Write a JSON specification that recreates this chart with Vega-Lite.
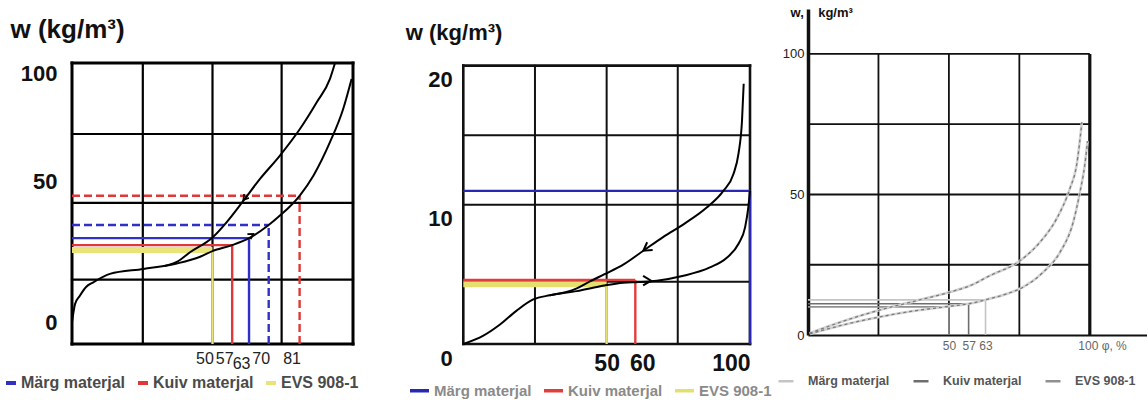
{
  "$schema": "https://vega.github.io/schema/vega-lite/v6.json",
  "background": "white",
  "padding": {"left": 3, "top": 6, "right": 0, "bottom": 0},
  "bounds": "flush",
  "spacing": 58,
  "config": {
    "view": {"stroke": null},
    "axis": {"labelFont": "Liberation Sans", "titleFont": "Liberation Sans", "grid": false, "ticks": false, "domain": false, "labelFlush": false, "labelOverlap": false, "labelBound": false, "labelColor": "#111", "titleColor": "#111"},
    "legend": {"labelFont": "Liberation Sans"}
  },
  "resolve": {
    "scale": {"x": "independent", "y": "independent", "color": "independent", "strokeDash": "independent"},
    "legend": {"color": "independent"}
  },
  "datasets": {
    "p1_grid": [
      {"kind": "frame", "x": 0, "x2": 0, "y": -8.87, "y2": 104.4},
      {"kind": "frame", "x": 100, "x2": 100, "y": -8.87, "y2": 104.4},
      {"kind": "frame", "x": 0, "x2": 100, "y": -8.87, "y2": -8.87},
      {"kind": "frame", "x": 0, "x2": 100, "y": 104.4, "y2": 104.4},
      {"kind": "grid", "x": 25.2, "x2": 25.2, "y": -8.87, "y2": 104.4},
      {"kind": "grid", "x": 50, "x2": 50, "y": -8.87, "y2": 104.4},
      {"kind": "grid", "x": 74.6, "x2": 74.6, "y": -8.87, "y2": 104.4},
      {"kind": "grid", "x": 0, "x2": 100, "y": 17.1, "y2": 17.1},
      {"kind": "grid", "x": 0, "x2": 100, "y": 48, "y2": 48},
      {"kind": "grid", "x": 0, "x2": 100, "y": 75.8, "y2": 75.8}
    ],
    "p1_lines": [
      {"series": "EVS 908-1", "style": "solid", "x": 0, "x2": 50, "y": 29, "y2": 29},
      {"series": "EVS 908-1", "style": "solid", "x": 50, "x2": 50, "y": -8.87, "y2": 29},
      {"series": "Kuiv materjal", "style": "solid", "x": 0, "x2": 57, "y": 31, "y2": 31},
      {"series": "Kuiv materjal", "style": "solid", "x": 57, "x2": 57, "y": -8.87, "y2": 31},
      {"series": "Märg materjal", "style": "solid", "x": 0, "x2": 63, "y": 33.8, "y2": 33.8},
      {"series": "Märg materjal", "style": "solid", "x": 63, "x2": 63, "y": -8.87, "y2": 33.8},
      {"series": "Märg materjal", "style": "dashed", "x": 0, "x2": 70, "y": 39.1, "y2": 39.1},
      {"series": "Märg materjal", "style": "dashed", "x": 70, "x2": 70, "y": -8.87, "y2": 39.1},
      {"series": "Kuiv materjal", "style": "dashed", "x": 0, "x2": 81, "y": 50.9, "y2": 50.9},
      {"series": "Kuiv materjal", "style": "dashed", "x": 81, "x2": 81, "y": -8.87, "y2": 50.9}
    ],
    "p1_curves": [
      {"branch": "absorption", "x": 0, "y": 0},
      {"branch": "absorption", "x": 1.1, "y": 7.3},
      {"branch": "absorption", "x": 2.8, "y": 10.6},
      {"branch": "absorption", "x": 5.0, "y": 14.1},
      {"branch": "absorption", "x": 7.6, "y": 16.0},
      {"branch": "absorption", "x": 13.5, "y": 19.4},
      {"branch": "absorption", "x": 25.4, "y": 21.4},
      {"branch": "absorption", "x": 37.3, "y": 23.6},
      {"branch": "absorption", "x": 45.6, "y": 26.3},
      {"branch": "absorption", "x": 50, "y": 28.6},
      {"branch": "absorption", "x": 57, "y": 31.0},
      {"branch": "absorption", "x": 63, "y": 33.8},
      {"branch": "absorption", "x": 70, "y": 39.1},
      {"branch": "absorption", "x": 74.0, "y": 42.9},
      {"branch": "absorption", "x": 81, "y": 50.9},
      {"branch": "absorption", "x": 85.9, "y": 59.0},
      {"branch": "absorption", "x": 91.8, "y": 72.5},
      {"branch": "absorption", "x": 96.5, "y": 85.9},
      {"branch": "absorption", "x": 99.5, "y": 98.0},
      {"branch": "desorption", "x": 33, "y": 22.6},
      {"branch": "desorption", "x": 37.3, "y": 24.2},
      {"branch": "desorption", "x": 42, "y": 28.1},
      {"branch": "desorption", "x": 50.1, "y": 34.2},
      {"branch": "desorption", "x": 55.0, "y": 40.2},
      {"branch": "desorption", "x": 61.0, "y": 48.9},
      {"branch": "desorption", "x": 66.9, "y": 57.7},
      {"branch": "desorption", "x": 74.0, "y": 67.1},
      {"branch": "desorption", "x": 81.1, "y": 77.8},
      {"branch": "desorption", "x": 87.1, "y": 88.6},
      {"branch": "desorption", "x": 91.8, "y": 98.0},
      {"branch": "desorption", "x": 93.6, "y": 104.4}
    ],
    "p1_arrows": [
      {"branch": "desorption", "x": 61.0, "y": 49.2},
      {"branch": "absorption", "x": 64.5, "y": 35.5}
    ],
    "p2_grid": [
      {"kind": "frame", "x": 0, "x2": 0, "y": 0, "y2": 20},
      {"kind": "frame", "x": 100, "x2": 100, "y": 0, "y2": 20},
      {"kind": "frame", "x": 0, "x2": 100, "y": 0, "y2": 0},
      {"kind": "frame", "x": 0, "x2": 100, "y": 20, "y2": 20},
      {"kind": "grid", "x": 25, "x2": 25, "y": 0, "y2": 20},
      {"kind": "grid", "x": 50, "x2": 50, "y": 0, "y2": 20},
      {"kind": "grid", "x": 74.8, "x2": 74.8, "y": 0, "y2": 20},
      {"kind": "grid", "x": 0, "x2": 100, "y": 4.48, "y2": 4.48},
      {"kind": "grid", "x": 0, "x2": 100, "y": 10, "y2": 10},
      {"kind": "grid", "x": 0, "x2": 100, "y": 15, "y2": 15}
    ],
    "p2_lines": [
      {"series": "EVS 908-1", "x": 0, "x2": 50, "y": 4.3, "y2": 4.3},
      {"series": "EVS 908-1", "x": 50, "x2": 50, "y": 0, "y2": 4.3},
      {"series": "Kuiv materjal", "x": 0, "x2": 60, "y": 4.6, "y2": 4.6},
      {"series": "Kuiv materjal", "x": 60, "x2": 60, "y": 0, "y2": 4.6},
      {"series": "Märg materjal", "x": 0, "x2": 100, "y": 11.0, "y2": 11.0},
      {"series": "Märg materjal", "x": 100, "x2": 100, "y": 0, "y2": 11.0}
    ],
    "p2_curves": [
      {"branch": "absorption", "x": 0, "y": 0},
      {"branch": "absorption", "x": 7.0, "y": 0.6},
      {"branch": "absorption", "x": 12.8, "y": 1.4},
      {"branch": "absorption", "x": 18.6, "y": 2.4},
      {"branch": "absorption", "x": 24.4, "y": 3.2},
      {"branch": "absorption", "x": 30.2, "y": 3.5},
      {"branch": "absorption", "x": 39.6, "y": 3.8},
      {"branch": "absorption", "x": 49.1, "y": 4.2},
      {"branch": "absorption", "x": 55.8, "y": 4.4},
      {"branch": "absorption", "x": 61.1, "y": 4.45},
      {"branch": "absorption", "x": 67.5, "y": 4.55},
      {"branch": "absorption", "x": 76.8, "y": 4.9},
      {"branch": "absorption", "x": 86.0, "y": 5.5},
      {"branch": "absorption", "x": 91.9, "y": 6.2},
      {"branch": "absorption", "x": 96.0, "y": 7.2},
      {"branch": "absorption", "x": 98.3, "y": 8.4},
      {"branch": "absorption", "x": 99.4, "y": 9.8},
      {"branch": "absorption", "x": 100, "y": 11.0},
      {"branch": "desorption", "x": 30.2, "y": 3.5},
      {"branch": "desorption", "x": 39.6, "y": 4.0},
      {"branch": "desorption", "x": 44.2, "y": 4.5},
      {"branch": "desorption", "x": 49.1, "y": 5.0},
      {"branch": "desorption", "x": 55.8, "y": 5.7},
      {"branch": "desorption", "x": 62.8, "y": 6.7},
      {"branch": "desorption", "x": 69.8, "y": 7.7},
      {"branch": "desorption", "x": 76.8, "y": 8.6},
      {"branch": "desorption", "x": 84.9, "y": 9.8},
      {"branch": "desorption", "x": 90.7, "y": 11.0},
      {"branch": "desorption", "x": 94.2, "y": 12.2},
      {"branch": "desorption", "x": 96.0, "y": 13.7},
      {"branch": "desorption", "x": 97.2, "y": 16.0},
      {"branch": "desorption", "x": 97.8, "y": 18.7}
    ],
    "p2_arrows": [
      {"branch": "desorption", "x": 62.8, "y": 6.7},
      {"branch": "absorption", "x": 65.5, "y": 4.55}
    ],
    "p3_grid": [
      {"kind": "grid", "x": 25, "x2": 25, "y": 0, "y2": 100},
      {"kind": "grid", "x": 50, "x2": 50, "y": 0, "y2": 100},
      {"kind": "grid", "x": 75, "x2": 75, "y": 0, "y2": 100},
      {"kind": "border", "x": 100, "x2": 100, "y": 0, "y2": 100},
      {"kind": "grid", "x": 0, "x2": 100, "y": 25, "y2": 25},
      {"kind": "grid", "x": 0, "x2": 100, "y": 50, "y2": 50},
      {"kind": "grid", "x": 0, "x2": 100, "y": 75, "y2": 75},
      {"kind": "grid", "x": 0, "x2": 100, "y": 100, "y2": 100}
    ],
    "p3_lines": [
      {"series": "EVS 908-1", "x": 0, "x2": 50, "y": 10.0, "y2": 10.0},
      {"series": "EVS 908-1", "x": 50, "x2": 50, "y": 0, "y2": 10.0},
      {"series": "Kuiv materjal", "x": 0, "x2": 57, "y": 11.1, "y2": 11.1},
      {"series": "Kuiv materjal", "x": 57, "x2": 57, "y": 0, "y2": 11.1},
      {"series": "Märg materjal", "x": 0, "x2": 63, "y": 12.5, "y2": 12.5},
      {"series": "Märg materjal", "x": 63, "x2": 63, "y": 0, "y2": 12.5}
    ],
    "p3_curves": [
      {"branch": "absorption", "x": 0.6, "y": 0.4},
      {"branch": "absorption", "x": 11.3, "y": 3.3},
      {"branch": "absorption", "x": 24.8, "y": 6.3},
      {"branch": "absorption", "x": 38.5, "y": 8.7},
      {"branch": "absorption", "x": 50.1, "y": 10.2},
      {"branch": "absorption", "x": 58.0, "y": 11.3},
      {"branch": "absorption", "x": 63.3, "y": 12.6},
      {"branch": "absorption", "x": 70.4, "y": 14.6},
      {"branch": "absorption", "x": 76.3, "y": 17.0},
      {"branch": "absorption", "x": 83.4, "y": 22.3},
      {"branch": "absorption", "x": 89.4, "y": 29.4},
      {"branch": "absorption", "x": 94.1, "y": 40.1},
      {"branch": "absorption", "x": 96.5, "y": 50.8},
      {"branch": "absorption", "x": 98.2, "y": 60.3},
      {"branch": "absorption", "x": 99.2, "y": 69.0},
      {"branch": "desorption", "x": 0.6, "y": 0.6},
      {"branch": "desorption", "x": 11.3, "y": 4.5},
      {"branch": "desorption", "x": 24.8, "y": 8.7},
      {"branch": "desorption", "x": 38.5, "y": 12.2},
      {"branch": "desorption", "x": 50.1, "y": 15.2},
      {"branch": "desorption", "x": 57.4, "y": 17.5},
      {"branch": "desorption", "x": 64.5, "y": 21.1},
      {"branch": "desorption", "x": 75.2, "y": 26.4},
      {"branch": "desorption", "x": 82.3, "y": 33.0},
      {"branch": "desorption", "x": 88.2, "y": 41.3},
      {"branch": "desorption", "x": 92.9, "y": 52.0},
      {"branch": "desorption", "x": 95.3, "y": 60.3},
      {"branch": "desorption", "x": 97.2, "y": 75.7}
    ]
  },
  "hconcat": [
    {
      "width": 281,
      "height": 335,
      "encoding": {
        "x": {
          "field": "x", "type": "quantitative",
          "scale": {"domain": [0, 100], "nice": false, "zero": false},
          "axis": {
            "title": null, "values": [50, 57, 63, 70, 81],
            "labelFontSize": 16, "labelColor": "#222",
            "labelOffset": -8,
            "labelPadding": {"condition": {"test": "datum.value === 63", "value": 11}, "value": 6}
          }
        },
        "y": {
          "field": "y", "type": "quantitative",
          "scale": {"domain": [-8.87, 126.2], "nice": false, "zero": false},
          "axis": {
            "values": [0, 50, 100],
            "labelFontSize": 22, "labelFontWeight": "bold", "labelPadding": 15,
            "labelOffset": {"condition": {"test": "datum.value === 50", "value": -16}, "value": 0},
            "title": "w (kg/m³)", "titleAngle": 0, "titleAlign": "left", "titleBaseline": "alphabetic",
            "titleFontSize": 26, "titleFontWeight": "bold", "titleX": -62, "titleY": 28
          }
        }
      },
      "layer": [
        {
          "data": {"name": "p1_grid"},
          "mark": {"type": "rule", "color": "black", "strokeCap": "square"},
          "encoding": {
            "x2": {"field": "x2"}, "y2": {"field": "y2"},
            "strokeWidth": {"condition": {"test": "datum.kind === 'frame'", "value": 3}, "value": 2.2}
          }
        },
        {
          "data": {"name": "p1_lines"},
          "mark": {"type": "rule"},
          "encoding": {
            "x2": {"field": "x2"}, "y2": {"field": "y2"},
            "color": {
              "field": "series", "type": "nominal",
              "scale": {"domain": ["Märg materjal", "Kuiv materjal", "EVS 908-1"], "range": ["#3030c8", "#e03838", "#e8e47a"]},
              "legend": {
                "orient": "none", "direction": "horizontal", "legendX": -69, "legendY": 366, "title": null,
                "symbolType": "stroke", "symbolSize": 100, "symbolStrokeWidth": 4,
                "labelFontSize": 16, "labelFontWeight": "bold", "labelColor": "#4a4a4a",
                "labelOffset": 2, "columnPadding": 4, "padding": 0
              }
            },
            "strokeDash": {
              "field": "style", "type": "nominal",
              "scale": {"domain": ["solid", "dashed"], "range": [[1, 0], [8, 4]]},
              "legend": null
            },
            "strokeWidth": {"condition": {"test": "datum.series === 'EVS 908-1' && datum.y === datum.y2", "value": 6}, "value": 2.4}
          }
        },
        {
          "data": {"name": "p1_curves"},
          "mark": {"type": "line", "color": "black", "strokeWidth": 2, "interpolate": "monotone"},
          "encoding": {"detail": {"field": "branch"}}
        },
        {
          "data": {"name": "p1_arrows"},
          "mark": {"type": "point", "shape": "M1,-0.6L0,0L1,0.6", "filled": false, "color": "black", "strokeWidth": 1.8, "size": 100, "opacity": 1},
          "encoding": {"angle": {"condition": {"test": "datum.branch === 'desorption'", "value": -52}, "value": 147}}
        }
      ]
    },
    {
      "width": 339,
      "height": 335,
      "encoding": {
        "x": {
          "field": "x", "type": "quantitative",
          "scale": {"domain": [-18.24, 100], "nice": false, "zero": false},
          "axis": {
            "title": null, "values": [50, 60, 100],
            "labelFontSize": 23, "labelFontWeight": "bold", "labelPadding": 8, "labelFlush": true,
            "labelOffset": {"condition": {"test": "datum.value === 60", "value": 7}, "value": 0}
          }
        },
        "y": {
          "field": "y", "type": "quantitative",
          "scale": {"domain": [0, 24.07], "nice": false, "zero": false},
          "axis": {
            "values": [0, 10, 20], "offset": -52.3,
            "labelFontSize": 22, "labelFontWeight": "bold", "labelPadding": 11, "labelOffset": 14,
            "title": "w (kg/m³)", "titleAngle": 0, "titleAlign": "left", "titleBaseline": "alphabetic",
            "titleFontSize": 22, "titleFontWeight": "bold", "titleX": -58, "titleY": 30
          }
        }
      },
      "layer": [
        {
          "data": {"name": "p2_grid"},
          "mark": {"type": "rule", "color": "#111", "strokeCap": "square"},
          "encoding": {
            "x2": {"field": "x2"}, "y2": {"field": "y2"},
            "strokeWidth": {"condition": {"test": "datum.kind === 'frame'", "value": 2.6}, "value": 2}
          }
        },
        {
          "data": {"name": "p2_lines"},
          "mark": {"type": "rule"},
          "encoding": {
            "x2": {"field": "x2"}, "y2": {"field": "y2"},
            "color": {
              "field": "series", "type": "nominal",
              "scale": {"domain": ["Märg materjal", "Kuiv materjal", "EVS 908-1"], "range": ["#2828b4", "#e23c3c", "#e4e070"]},
              "legend": {
                "orient": "none", "direction": "horizontal", "legendX": -3, "legendY": 370, "title": null,
                "symbolType": "stroke", "symbolSize": 361, "symbolStrokeWidth": 3.5,
                "labelFontSize": 15, "labelFontWeight": "bold", "labelColor": "#8a8a8a",
                "labelOffset": 3, "columnPadding": 5, "padding": 0
              }
            },
            "strokeWidth": {"condition": {"test": "datum.series === 'EVS 908-1' && datum.y === datum.y2", "value": 6}, "value": 2.4}
          }
        },
        {
          "data": {"name": "p2_curves"},
          "mark": {"type": "line", "color": "black", "strokeWidth": 2, "interpolate": "monotone"},
          "encoding": {"detail": {"field": "branch"}}
        },
        {
          "data": {"name": "p2_arrows"},
          "mark": {"type": "point", "shape": "M1,-0.6L0,0L1,0.6", "filled": false, "color": "black", "strokeWidth": 2, "size": 256, "opacity": 1},
          "encoding": {"angle": {"condition": {"test": "datum.branch === 'desorption'", "value": -35}, "value": 180}}
        }
      ]
    },
    {
      "width": 339,
      "height": 326,
      "encoding": {
        "x": {
          "field": "x", "type": "quantitative",
          "scale": {"domain": [0, 120.3], "nice": false, "zero": false},
          "axis": {
            "title": null, "values": [50, 57, 63, 100],
            "domain": true, "domainWidth": 2, "domainColor": "#111",
            "labelFontSize": 12, "labelColor": "#666", "labelPadding": 5,
            "labelExpr": "datum.value === 100 ? '100 φ, %' : datum.label",
            "labelAlign": {"condition": {"test": "datum.value === 100", "value": "left"}, "value": "center"},
            "labelOffset": {"condition": {"test": "datum.value === 100", "value": -12}, "value": 0}
          }
        },
        "y": {
          "field": "y", "type": "quantitative",
          "scale": {"domain": [0, 116], "nice": false, "zero": false},
          "axis": {
            "values": [0, 50, 100],
            "domain": true, "domainWidth": 3.5, "domainColor": "#111",
            "labelFontSize": 13, "labelPadding": 4, "labelColor": "#222",
            "title": "w,\u00a0\u00a0\u00a0\u00a0kg/m³", "titleAngle": 0, "titleAlign": "left", "titleBaseline": "alphabetic",
            "titleFontSize": 13, "titleFontWeight": "bold", "titleX": -18, "titleY": 7
          }
        }
      },
      "layer": [
        {
          "data": {"name": "p3_grid"},
          "mark": {"type": "rule", "color": "#111"},
          "encoding": {
            "x2": {"field": "x2"}, "y2": {"field": "y2"},
            "strokeWidth": {"condition": {"test": "datum.kind === 'border'", "value": 3.2}, "value": 1.8}
          }
        },
        {
          "data": {"name": "p3_lines"},
          "mark": {"type": "rule", "strokeWidth": 1.6},
          "encoding": {
            "x2": {"field": "x2"}, "y2": {"field": "y2"},
            "color": {
              "field": "series", "type": "nominal",
              "scale": {"domain": ["Märg materjal", "Kuiv materjal", "EVS 908-1"], "range": ["#c4c4c4", "#6e6e6e", "#909090"]},
              "legend": {
                "orient": "none", "direction": "horizontal", "legendX": -31, "legendY": 363, "title": null,
                "symbolType": "stroke", "symbolSize": 225, "symbolStrokeWidth": 2.5,
                "labelFontSize": 12.5, "labelFontWeight": "bold", "labelColor": "#555",
                "labelOffset": 13, "columnPadding": 18, "padding": 0
              }
            }
          }
        },
        {
          "data": {"name": "p3_curves"},
          "mark": {"type": "line", "color": "#d2d2d2", "strokeWidth": 2.6, "interpolate": "monotone"},
          "encoding": {"detail": {"field": "branch"}}
        },
        {
          "data": {"name": "p3_curves"},
          "mark": {"type": "line", "color": "#7a7a7a", "strokeWidth": 1.3, "strokeDash": [3, 3], "interpolate": "monotone"},
          "encoding": {"detail": {"field": "branch"}}
        }
      ]
    }
  ]
}
